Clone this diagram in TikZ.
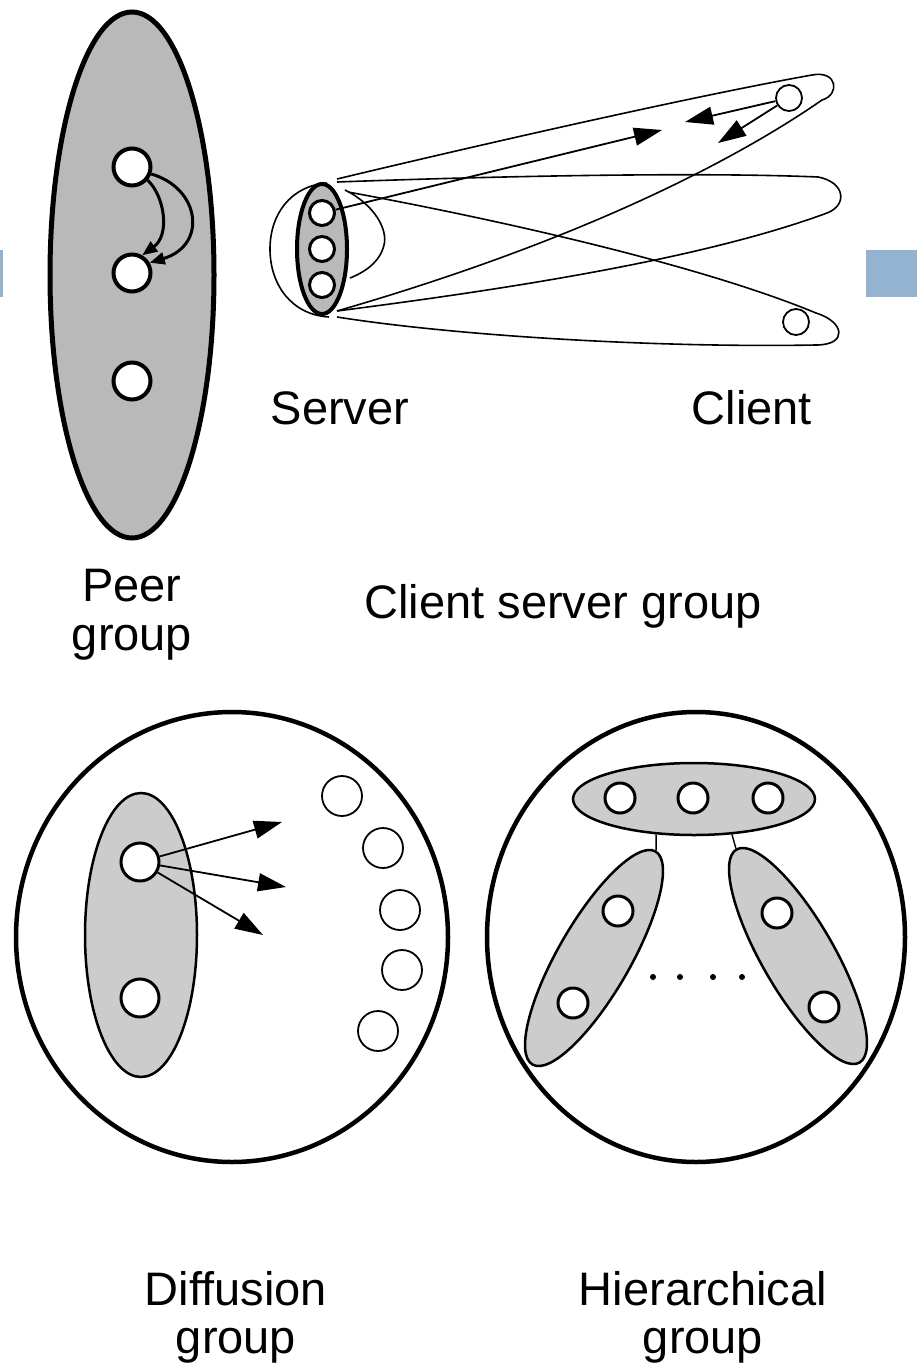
\documentclass[tikz,border=0pt]{standalone}
\usepackage{fontspec}
\setmainfont{Liberation Sans}
\usetikzlibrary{shapes.geometric,arrows.meta}
\definecolor{barblue}{HTML}{93B3D0}
\tikzset{
  grp/.style={ellipse, draw, inner sep=0pt, line width=2.5pt, fill=gray!40},
  member/.style={circle, draw, inner sep=0pt, line width=3pt, fill=white, minimum size=#1},
  hollow/.style={circle, draw, inner sep=0pt, line width=1.8pt, minimum size=#1},
  lbl/.style={anchor=base, font=\fontsize{47}{52}\selectfont},
  arr/.style={line width=1.8pt, -{Triangle[length=28pt,width=18pt]}},
  arrsm/.style={line width=3pt, -{Triangle[length=15pt,width=12pt]}},
  loop/.style={line width=1.6pt}
}
\begin{document}
\begin{tikzpicture}[x=1pt,y=-1pt]
    \useasboundingbox (0,0) rectangle (917,1372);
    \fill[barblue] (0,250) rectangle (3,297); % side bars
    \fill[barblue] (866,250) rectangle (917,297);
    % Peer group
    \node[grp, line width=5pt, fill=gray!55, minimum width=164pt, minimum height=526pt] (peer) at (132,275) {};
    \node[member=37pt, line width=4pt] (p1) at (132,167) {};
    \node[member=37pt, line width=4pt] (p2) at (132,273) {};
    \node[member=37pt, line width=4pt] (p3) at (132,381) {};
    \draw[arrsm] (p1.-40) .. controls (165,197) and (170,235) .. (p2.60);
    \draw[arrsm] (p1.-20) .. controls (200,188) and (208,245) .. (p2.30);
    \node[lbl] (peerlbl) at (132,601) {Peer};
    \node[lbl] (peerlblb) at (132,650) {group};
    % Client server group
    \draw[loop] (327,183) .. controls (290,186) and (270,215) .. (270,249) .. controls (270,285) and (292,315) .. (329,317);
    \draw[loop] (345,190) .. controls (375,205) and (388,230) .. (384,245) .. controls (380,262) and (365,272) .. (350,278);
    \draw[loop] (337,179) .. controls (500,140) and (700,95) .. (812,75) .. controls (838,70) and (840,95) .. (822,100) .. controls (750,150) and (600,235) .. (337,311); % top client
    \draw[loop] (337,182) .. controls (500,176) and (700,172) .. (818,177) .. controls (845,182) and (848,205) .. (827,213) .. controls (700,260) and (500,290) .. (337,311); % middle client
    \draw[loop] (348,192) .. controls (500,220) and (700,265) .. (816,313) .. controls (845,322) and (848,345) .. (816,345) .. controls (650,348) and (450,335) .. (337,317); % bottom client
    \node[grp, line width=4pt, fill=gray!55, minimum width=50pt, minimum height=130pt] (srv) at (322,249) {};
    \node[member=25pt] (s1) at (322,213) {};
    \node[member=25pt] (s2) at (322,249) {};
    \node[member=25pt] (s3) at (322,285) {};
    \node[hollow=26pt] (c1) at (789,98) {};
    \node[hollow=26pt] (c2) at (796,322) {};
    \coordinate (t1) at (662,130);
    \coordinate (t2) at (685,122);
    \coordinate (t3) at (718,143);
    \draw[arr] (s1) -- (t1); % request
    \draw[arr] (c1) -- (t2); % replies
    \draw[arr] (c1) -- (t3);
    \node[lbl] (srvlbl) at (340,424) {Server};
    \node[lbl] (clilbl) at (752,424) {Client};
    \node[lbl] (cslbl) at (563,618) {Client server group};
    % Diffusion group
    \node[grp, line width=4.5pt, fill=none, minimum width=432pt, minimum height=450pt] (dif) at (232,937) {};
    \node[grp, minimum width=112pt, minimum height=284pt] (difin) at (141,935) {};
    \node[member=38pt] (d1) at (140,862) {};
    \node[member=38pt] (d2) at (140,998) {};
    \coordinate (e1) at (282,822);
    \coordinate (e2) at (286,887);
    \coordinate (e3) at (263,935);
    \foreach \e in {e1,e2,e3}
        \draw[arr] (d1) -- (\e);
    \node[hollow=40pt] (o1) at (342,796) {};
    \node[hollow=40pt] (o2) at (383,848) {};
    \node[hollow=40pt] (o3) at (400,910) {};
    \node[hollow=40pt] (o4) at (402,970) {};
    \node[hollow=40pt] (o5) at (378,1031) {};
    \node[lbl] (diflbl) at (236,1305) {Diffusion};
    \node[lbl] (diflblb) at (236,1353) {group};
    % Hierarchical group
    \node[grp, line width=4.5pt, fill=none, minimum width=418pt, minimum height=450pt] (hier) at (696,937) {};
    \node[grp, minimum width=242pt, minimum height=72pt] (htop) at (694,799) {};
    \node[grp, rotate=60, minimum width=246pt, minimum height=72pt] (hl) at (594,958) {};
    \node[grp, rotate=-60, minimum width=246pt, minimum height=72pt] (hr) at (798,956) {};
    \node[member=30pt] (a1) at (620,798) {};
    \node[member=30pt] (a2) at (693,798) {};
    \node[member=30pt] (a3) at (768,798) {};
    \node[member=30pt] (b1) at (618,911) {};
    \node[member=30pt] (b2) at (573,1003) {};
    \node[member=30pt] (b3) at (777,913) {};
    \node[member=30pt] (b4) at (824,1007) {};
    \draw[line width=1.4pt] (htop.-137) -- (hl.east);
    \draw[line width=1.4pt] (htop.-43) -- (hr.west);
    \foreach \x in {653,680,713,742}
        \fill (\x,977) circle (3);
    \node[lbl] (hierlbl) at (703,1305) {Hierarchical};
    \node[lbl] (hierlblb) at (703,1353) {group};
\end{tikzpicture}
\end{document}
